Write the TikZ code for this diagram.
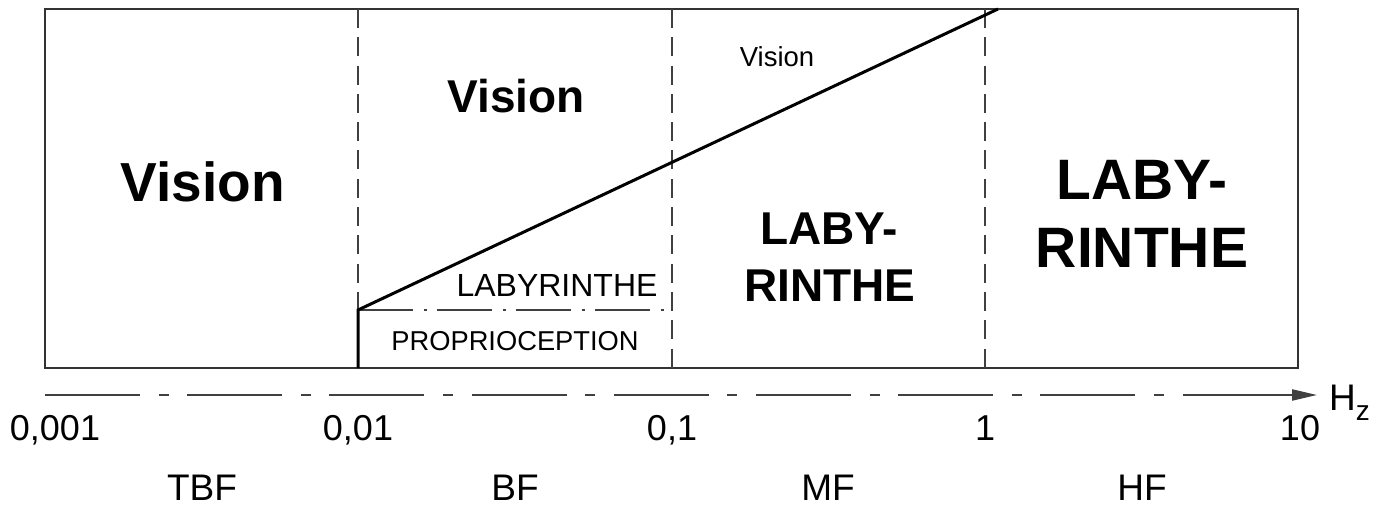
\documentclass[tikz,border=0pt]{standalone}
\usepackage{fontspec}
\setmainfont{Liberation Sans}
\usetikzlibrary{arrows.meta}
\newcommand{\setfs}[1]{\fontsize{#1}{#1}\selectfont}

\begin{document}
\begin{tikzpicture}[x=1pt,y=-1pt,
  frame/.style={draw=black!80, line width=2pt},
  band/.style={draw=black!75, line width=2.2pt, dash pattern=on 19pt off 9.3pt},
  curve/.style={draw=black, line width=3pt},
  split/.style={draw=black!75, line width=2pt, dash pattern=on 55pt off 10.5pt on 3pt off 10.5pt},
  axisline/.style={draw=black!75, line width=2.2pt, dash pattern=on 95pt off 18.6pt on 10pt off 18.6pt},
  lbl/.style={inner sep=0pt, anchor=base},
  big/.style={lbl, font=\bfseries\setfs{#1}},
  plain/.style={lbl, font=\setfs{#1}},
]
\useasboundingbox (0,0) rectangle (1391,510);

% frequency bands frame
\coordinate (tl) at (45,9);
\coordinate (br) at (1298,368);
\draw[frame] (tl) rectangle (br);

% band separators
\coordinate (s1t) at (358,9);   \coordinate (s1b) at (358,368);
\coordinate (s2t) at (672,9);   \coordinate (s2b) at (672,368);
\coordinate (s3t) at (985,9);   \coordinate (s3b) at (985,368);
\draw[band] (s1t) -- (s1b);
\draw[band] (s2t) -- (s2b);
\draw[band] (s3t) -- (s3b);

% vision / labyrinth boundary
\coordinate (k0) at (358,368);
\coordinate (k1) at (358,310);
\coordinate (k2) at (998,9);
\coordinate (k3) at (672,310);
\draw[split] (k1) -- (k3);
\draw[curve] (k0) -- (k1) -- (k2);

% region labels
\node[big=55] (visA) at (203,202) {Vision};
\node[big=46] (visB) at (516,113) {Vision};
\node[plain=27.5] (visC) at (777,67) {Vision};
\node[big=46] (labMa) at (829,245) {LABY-};
\node[big=46] (labMb) at (830,302) {RINTHE};
\node[big=57] (labHa) at (1142,200) {LABY-};
\node[big=57] (labHb) at (1142,268) {RINTHE};
\node[plain=32] (labS) at (557,297) {LABYRINTHE};
\node[plain=27.3] (prop) at (515,350) {PROPRIOCEPTION};

% frequency axis
\coordinate (ax0) at (45,395);
\coordinate (ax1) at (1183,395);
\coordinate (ax2) at (1317,395);
\draw[axisline] (ax0) -- (ax1);
\draw[draw=black!75, line width=2.2pt, -{Triangle[length=25pt,width=11pt]}] (ax1) -- (ax2);
\node[lbl, anchor=base west, font=\setfs{37}] (unit) at (1329,410) {H\raisebox{-10pt}{\setfs{28}z}};

% tick values
\node[plain=36] (f1) at (55,440) {0,001};
\node[plain=36] (f2) at (358,440) {0,01};
\node[plain=36] (f3) at (672,440) {0,1};
\node[plain=36] (f4) at (985,440) {1};
\node[plain=36] (f5) at (1300,440) {10};

% band names
\node[plain=37] (tbf) at (202,500) {TBF};
\node[plain=37] (bf) at (515,500) {BF};
\node[plain=37] (mf) at (828,500) {MF};
\node[plain=37] (hf) at (1142,500) {HF};
\end{tikzpicture}
\end{document}
